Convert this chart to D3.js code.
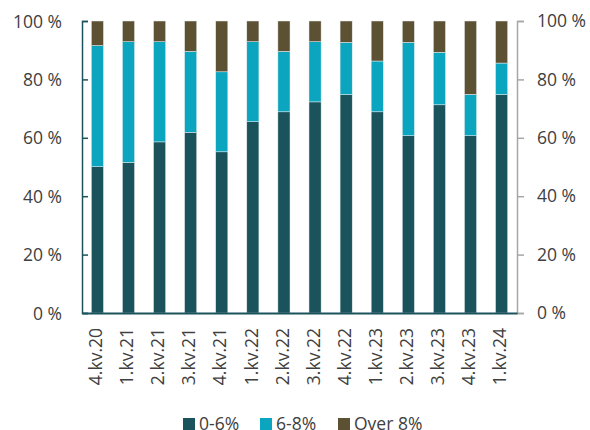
<html lang='en'>
  <head>
    <meta charset='UTF-8' />
    <script src='https://d3js.org/d3.v7.min.js'></script>
    <style>
      body { margin: 0; background: #fff; }
      text { font-family: 'Open Sans', sans-serif; fill: #404040; }
    </style>
    <title>Stacked shares</title>
  </head>
  <body>
  <div id='chart'></div>
  <script>

  //categories along the x axis
  const quarters = ["4.kv.20", "1.kv.21", "2.kv.21", "3.kv.21", "4.kv.21", "1.kv.22", "2.kv.22",
    "3.kv.22", "4.kv.22", "1.kv.23", "2.kv.23", "3.kv.23", "4.kv.23", "1.kv.24"];

  //series values (share in %)
  const low = [50.1, 51.6, 58.6, 61.9, 55.2, 65.5, 68.9, 72.3, 74.8, 68.9, 60.7, 71.3, 60.7, 74.8];
  const mid = [41.5, 41.3, 34.3, 27.7, 27.4, 27.4, 20.7, 20.6, 17.9, 17.4, 32.0, 18.0, 14.2, 10.8];
  const high = [8.4, 7.1, 7.1, 10.4, 17.4, 7.1, 10.4, 7.1, 7.3, 13.7, 7.3, 10.7, 25.1, 14.4];

  const seriesNames = ["0-6%", "6-8%", "Over 8%"];
  const yTicks = [0, 20, 40, 60, 80, 100];

  const width = 590;
  const height = 430;
  const margin = { top: 21, right: 73, bottom: 117, left: 82 };
  const innerWidth = width - margin.left - margin.right;
  const innerHeight = height - margin.top - margin.bottom;
  const fontSize = "17.5px";

  const color = d3.scaleOrdinal()
    .domain(seriesNames)
    .range(["#1a535c", "#0ca5bf", "#5c5133"]);

  //table for the stack
  const table = quarters.map((q, i) => ({
    q,
    "0-6%": low[i],
    "6-8%": mid[i],
    "Over 8%": high[i]
  }));
  const stacked = d3.stack().keys(seriesNames)(table);

  const xScale = d3.scaleBand()
    .domain(quarters)
    .range([0, innerWidth])
    .paddingInner(0.61)
    .paddingOuter(0.3);

  const yScale = d3.scaleLinear().domain([0, 100]).range([innerHeight, 0]);

  const svg = d3.select("#chart")
    .append("svg")
    .attr("width", width)
    .attr("height", height);

  const g = svg.append("g")
    .attr("transform", `translate(${margin.left},${margin.top})`);

  //bars
  g.selectAll("g.layer")
    .data(stacked)
    .join("g")
    .attr("class", "layer")
    .attr("fill", (d) => color(d.key))
    .selectAll("rect")
    .data((d) => d)
    .join("rect")
    .attr("x", (d) => xScale(d.data.q))
    .attr("y", (d) => yScale(d[1]))
    .attr("width", xScale.bandwidth())
    .attr("height", (d) => yScale(d[0]) - yScale(d[1]))
    .attr("stroke", "#e8eeee")
    .attr("stroke-width", 0.5);

  //left axis
  const gLeft = g.append("g")
    .call(d3.axisRight(yScale).tickValues(yTicks).tickSize(6).tickFormat(""));
  gLeft.selectAll("line, path").attr("stroke", "#1a535c").attr("stroke-width", 1.5);
  gLeft.selectAll(".tick")
    .append("text")
    .attr("x", -20)
    .attr("dy", "0.35em")
    .attr("text-anchor", "end")
    .style("font-size", fontSize)
    .text((d) => d + " %");

  //right axis
  const gRight = g.append("g")
    .attr("transform", `translate(${innerWidth},0)`)
    .call(d3.axisRight(yScale).tickValues(yTicks).tickSize(7).tickFormat((d) => d + " %"));
  gRight.selectAll("line, path").attr("stroke", "#a6a6a6").attr("stroke-width", 1.5);
  gRight.selectAll(".tick text")
    .attr("x", 20)
    .style("font-size", fontSize)
    .style("font-family", "'Open Sans', sans-serif")
    .attr("fill", "#404040");

  //bottom axis
  const gBottom = g.append("g")
    .attr("transform", `translate(0,${innerHeight})`)
    .call(d3.axisBottom(xScale).tickSize(0));
  gBottom.select("path").attr("stroke", "#1a535c").attr("stroke-width", 2);
  gBottom.selectAll(".tick text")
    .attr("transform", "rotate(-90)")
    .attr("text-anchor", "end")
    .attr("dominant-baseline", "middle")
    .attr("x", -15)
    .attr("y", 0)
    .attr("dy", 0)
    .style("font-size", fontSize)
    .style("font-family", "'Open Sans', sans-serif")
    .attr("fill", "#404040");

  //legend
  const legendX = [183, 260, 338];
  const legend = svg.append("g")
    .selectAll("g")
    .data(seriesNames)
    .join("g")
    .attr("transform", (d, i) => `translate(${legendX[i]},418)`);
  legend.append("rect")
    .attr("width", 12)
    .attr("height", 12)
    .attr("fill", (d) => color(d));
  legend.append("text")
    .attr("x", 16)
    .attr("y", 6)
    .attr("dy", "0.35em")
    .style("font-size", fontSize)
    .text((d) => d);

  </script>
  </body>
</html>
